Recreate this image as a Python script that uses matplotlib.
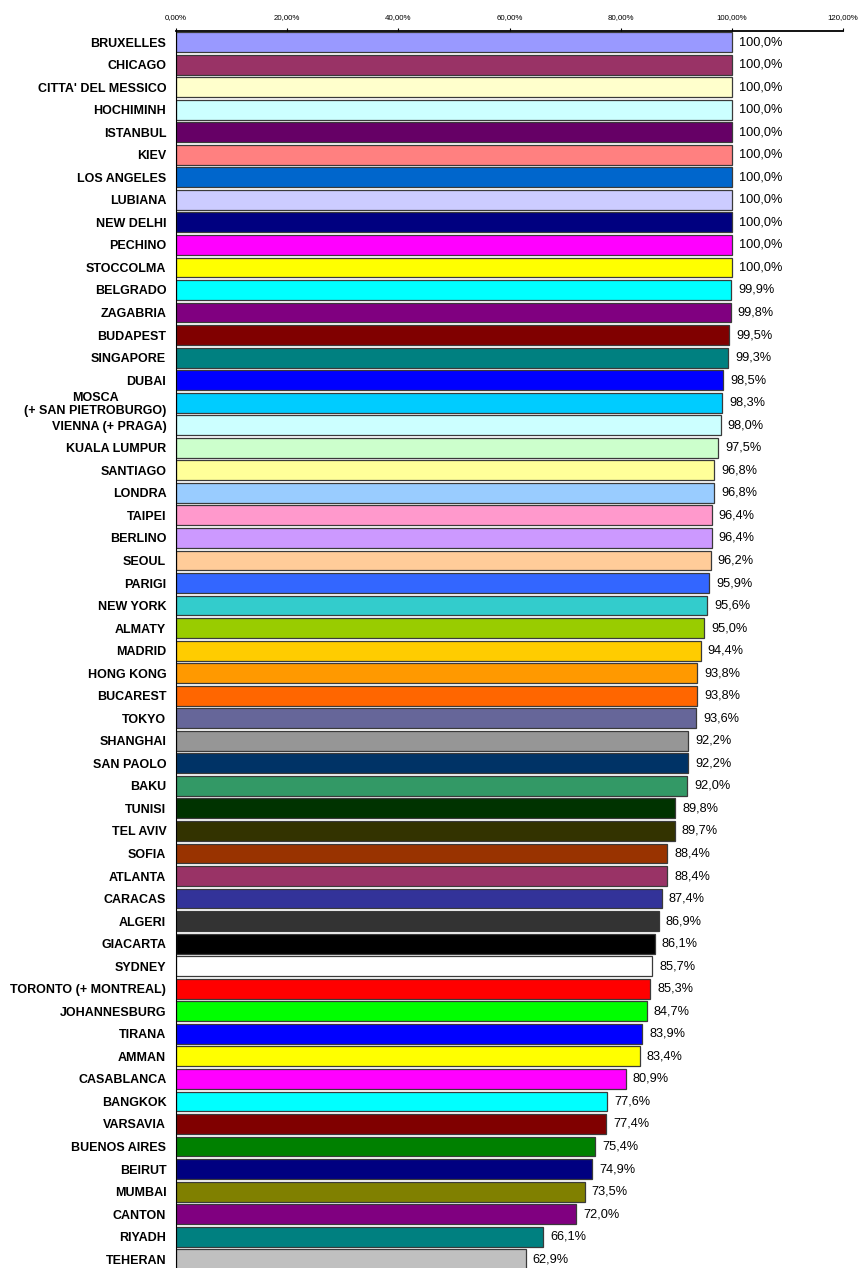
import matplotlib
matplotlib.use("Agg")
import matplotlib.pyplot as plt

plt.rcParams['font.family'] = ['Liberation Sans', 'DejaVu Sans']

cities = ["BRUXELLES", "CHICAGO", "CITTA' DEL MESSICO", "HOCHIMINH", "ISTANBUL", "KIEV",
          "LOS ANGELES", "LUBIANA", "NEW DELHI", "PECHINO", "STOCCOLMA", "BELGRADO",
          "ZAGABRIA", "BUDAPEST", "SINGAPORE", "DUBAI", "MOSCA\n(+ SAN PIETROBURGO)",
          "VIENNA (+ PRAGA)", "KUALA LUMPUR", "SANTIAGO", "LONDRA", "TAIPEI", "BERLINO",
          "SEOUL", "PARIGI", "NEW YORK", "ALMATY", "MADRID", "HONG KONG", "BUCAREST",
          "TOKYO", "SHANGHAI", "SAN PAOLO", "BAKU", "TUNISI", "TEL AVIV", "SOFIA",
          "ATLANTA", "CARACAS", "ALGERI", "GIACARTA", "SYDNEY", "TORONTO (+ MONTREAL)",
          "JOHANNESBURG", "TIRANA", "AMMAN", "CASABLANCA", "BANGKOK", "VARSAVIA",
          "BUENOS AIRES", "BEIRUT", "MUMBAI", "CANTON", "RIYADH", "TEHERAN"]

values = [100.0, 100.0, 100.0, 100.0, 100.0, 100.0, 100.0, 100.0, 100.0, 100.0, 100.0,
          99.9, 99.8, 99.5, 99.3, 98.5, 98.3, 98.0, 97.5, 96.8, 96.8, 96.4, 96.4, 96.2,
          95.9, 95.6, 95.0, 94.4, 93.8, 93.8, 93.6, 92.2, 92.2, 92.0, 89.8, 89.7, 88.4,
          88.4, 87.4, 86.9, 86.1, 85.7, 85.3, 84.7, 83.9, 83.4, 80.9, 77.6, 77.4, 75.4,
          74.9, 73.5, 72.0, 66.1, 62.9]

colors = ["#9999FF", "#993366", "#FFFFCC", "#CCFFFF", "#660066", "#FF8080", "#0066CC",
          "#CCCCFF", "#000080", "#FF00FF", "#FFFF00", "#00FFFF", "#800080", "#800000",
          "#008080", "#0000FF", "#00CCFF", "#CCFFFF", "#CCFFCC", "#FFFF99", "#99CCFF",
          "#FF99CC", "#CC99FF", "#FFCC99", "#3366FF", "#33CCCC", "#99CC00", "#FFCC00",
          "#FF9900", "#FF6600", "#666699", "#969696", "#003366", "#339966", "#003300",
          "#333300", "#993300", "#993366", "#333399", "#333333", "#000000", "#FFFFFF",
          "#FF0000", "#00FF00", "#0000FF", "#FFFF00", "#FF00FF", "#00FFFF", "#800000",
          "#008000", "#000080", "#808000", "#800080", "#008080", "#C0C0C0"]

xticks = [0, 20, 40, 60, 80, 100, 120]
xticklabels = ["0,00%", "20,00%", "40,00%", "60,00%", "80,00%", "100,00%", "120,00%"]

W, H = 861, 1268
fig = plt.figure(figsize=(W / 100, H / 100), dpi=100)
left, right, top, bottom = 176, 843, 31, 1268
ax = fig.add_axes([left / W, 1 - bottom / H, (right - left) / W, (bottom - top) / H])

ypos = list(range(len(cities)))
ax.barh(ypos, values, height=0.88, color=colors, edgecolor="#3a3a3a", linewidth=0.9)

for y, v in zip(ypos, values):
    ax.annotate(f"{v:.1f}%".replace(".", ","), xy=(v, y), xytext=(5, 0),
                textcoords="offset points", va="center", ha="left", fontsize=9.2)

ax.set_xlim(0, 120)
ax.set_ylim(54.39, -0.49)
ax.set_yticks(ypos)
ax.set_yticklabels(cities, fontsize=9.0, fontweight="bold", multialignment="center",
                   linespacing=1.05)
ax.tick_params(axis="y", length=0, pad=7)
ax.xaxis.tick_top()
ax.set_xticks(xticks)
ax.set_xticklabels(xticklabels, fontsize=5.7)
ax.tick_params(axis="x", length=2, width=0.8, pad=5)

for s in ["right", "bottom"]:
    ax.spines[s].set_visible(False)
ax.spines["top"].set_linewidth(1.3)
ax.spines["left"].set_linewidth(0.8)

fig.savefig("out.png", dpi=100)
